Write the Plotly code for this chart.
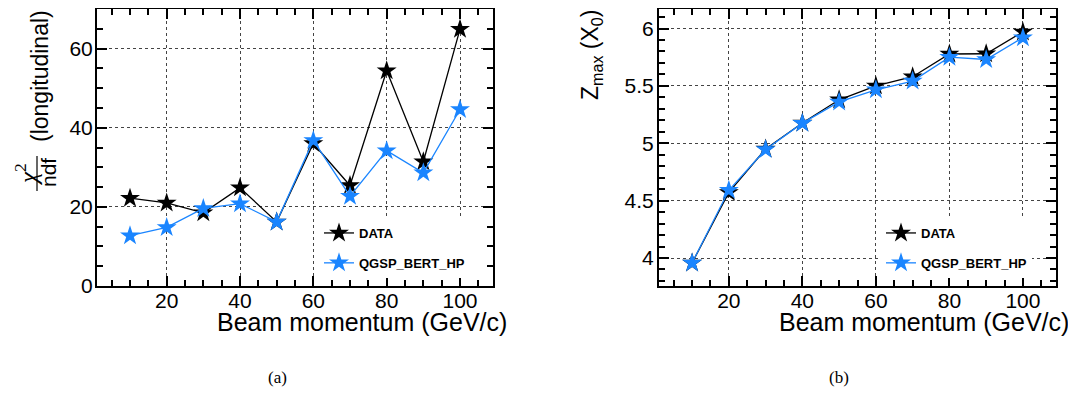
import plotly.graph_objects as go

momentum = [10, 20, 30, 40, 50, 60, 70, 80, 90, 100]
chi2_data = [22.2, 21.0, 18.5, 24.8, 16.2, 36.0, 25.4, 54.4, 31.4, 64.9]
chi2_qgsp = [12.7, 14.8, 19.6, 20.8, 16.2, 36.8, 22.7, 34.2, 28.6, 44.6]
zmax_data = [3.957, 4.572, 4.950, 5.176, 5.379, 5.500, 5.580, 5.778, 5.780, 5.970]
zmax_qgsp = [3.957, 4.590, 4.945, 5.175, 5.360, 5.466, 5.542, 5.750, 5.730, 5.920]
series_names = ["DATA", "QGSP_BERT_HP"]
series_colors = ["#000000", "#1a85ff"]

OFF = 8  # page body margin
W, H = 1068, 400
def px(x):
    return min(1.0, max(0.0, (x - OFF) / W))
def py(y):
    return min(1.0, max(0.0, 1 - (y - OFF) / H))

fig = go.Figure()
left = [chi2_data, chi2_qgsp]
right = [zmax_data, zmax_qgsp]
for i, (name, col) in enumerate(zip(series_names, series_colors)):
    fig.add_trace(go.Scatter(x=momentum, y=left[i], name=name, mode="lines+markers",
                             line=dict(color=col, width=1.3),
                             marker=dict(symbol="star", size=15, color=col),
                             xaxis="x", yaxis="y", legend="legend", legendgroup=name + "a"))
for i, (name, col) in enumerate(zip(series_names, series_colors)):
    fig.add_trace(go.Scatter(x=momentum, y=right[i], name=name, mode="lines+markers",
                             line=dict(color=col, width=1.3),
                             marker=dict(symbol="star", size=15, color=col),
                             xaxis="x2", yaxis="y2", legend="legend2", legendgroup=name + "b"))

font_main = "Liberation Sans, Arial, sans-serif"
def ax(**kw):
    d = dict(showline=True, mirror="allticks", linecolor="black", linewidth=2,
             ticks="inside", ticklen=10, tickwidth=1.5, tickcolor="black", automargin=False,
             showgrid=True, gridcolor="#444444", griddash="dot", gridwidth=1,
             zeroline=False, tickfont=dict(family=font_main, size=21, color="black"))
    d.update(kw)
    return d

def minor(d):
    return dict(ticks="inside", ticklen=6, tickwidth=1.5, dtick=d, tick0=0,
                showgrid=False, tickcolor="black")

xdom1 = [px(97), px(493)]
xdom2 = [px(659), px(1056)]
ydom = [py(286), py(9)]

fig.update_layout(
    template="none",
    width=W, height=H, margin=dict(l=0, r=0, t=0, b=0, autoexpand=False),
    paper_bgcolor="white", plot_bgcolor="white",
    font=dict(family=font_main, color="black"),
    xaxis=ax(domain=xdom1, range=[1, 109], dtick=20, tick0=0, anchor="y", minor=minor(5),
             ticklabelstandoff=-5),
    yaxis=ax(domain=ydom, range=[0, 70], dtick=20, tick0=0, anchor="x", minor=minor(5),
             ticklabelstandoff=-2),
    xaxis2=ax(domain=xdom2, range=[1, 109], dtick=20, tick0=0, anchor="y2", minor=minor(5),
              ticklabelstandoff=-5),
    yaxis2=ax(domain=ydom, range=[3.756, 6.17], dtick=0.5, tick0=0, anchor="x2", minor=minor(0.1),
              ticklabelstandoff=-1),
    legend=dict(x=px(319), y=py(218), xanchor="left", yanchor="top", bgcolor="white",
                font=dict(family=font_main, size=13, color="black", weight="bold"),
                tracegroupgap=10, traceorder="grouped", itemwidth=30),
    legend2=dict(x=px(881), y=py(218), xanchor="left", yanchor="top", bgcolor="white",
                 font=dict(family=font_main, size=13, color="black", weight="bold"),
                 tracegroupgap=10, traceorder="grouped", itemwidth=30),
)

ann = []
ann.append(dict(text="Beam momentum (GeV/c)", x=px(509), y=py(322), xref="paper", yref="paper",
                xanchor="right", yanchor="middle", showarrow=False, font=dict(size=25)))
ann.append(dict(text="Beam momentum (GeV/c)", x=px(1071), y=py(322), xref="paper", yref="paper",
                xanchor="right", yanchor="middle", showarrow=False, font=dict(size=25)))
ann.append(dict(text="(longitudinal)", x=px(40), y=py(8), xref="paper", yref="paper",
                xanchor="center", yanchor="top", textangle=-90, showarrow=False, font=dict(size=23)))
ann.append(dict(text="<i>χ</i><sup>2</sup>", x=px(26), y=py(174), xref="paper", yref="paper",
                xanchor="center", yanchor="middle", textangle=-90, showarrow=False,
                font=dict(size=25, family="Liberation Serif, serif")))
ann.append(dict(text="ndf", x=px(48), y=py(173), xref="paper", yref="paper",
                xanchor="center", yanchor="middle", textangle=-90, showarrow=False, font=dict(size=21)))
ann.append(dict(text="Z<sub>max</sub> (X<sub>0</sub>)", x=px(591), y=py(8), xref="paper", yref="paper",
                xanchor="center", yanchor="top", textangle=-90, showarrow=False, font=dict(size=23)))
ann.append(dict(text="(a)", x=px(277), y=py(377), xref="paper", yref="paper",
                xanchor="center", yanchor="middle", showarrow=False,
                font=dict(family="Liberation Serif, Times New Roman, serif", size=17)))
ann.append(dict(text="(b)", x=px(839), y=py(377), xref="paper", yref="paper",
                xanchor="center", yanchor="middle", showarrow=False,
                font=dict(family="Liberation Serif, Times New Roman, serif", size=17)))
fig.update_layout(annotations=ann)

fig.add_shape(type="line", xref="paper", yref="paper", x0=px(37), x1=px(37), y0=py(156), y1=py(191),
              line=dict(color="black", width=1.2))

fig.write_html("out.html")
